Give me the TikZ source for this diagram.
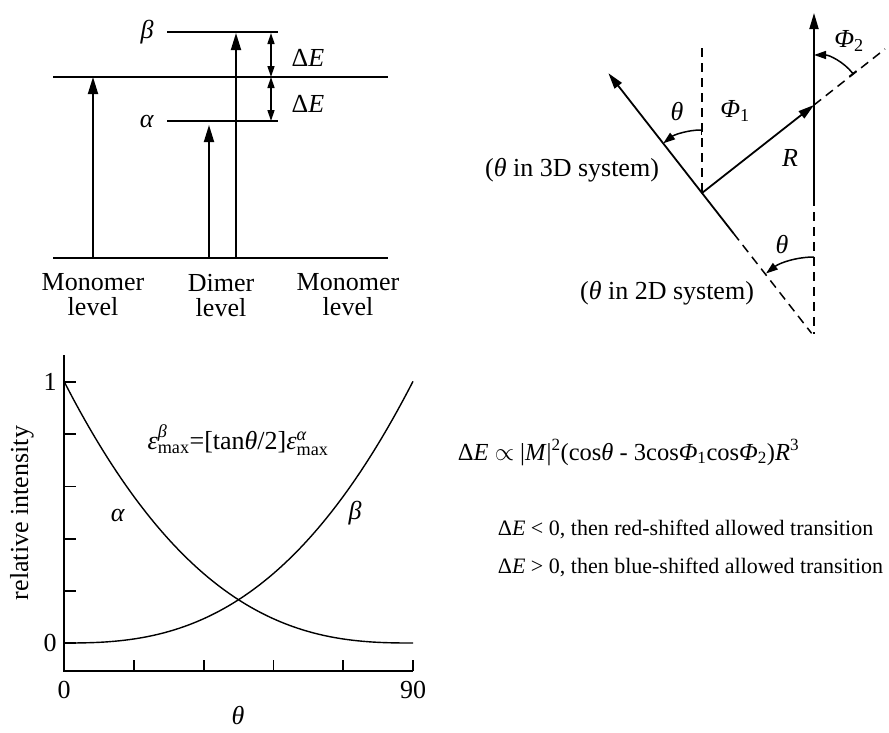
\documentclass[tikz,border=0pt]{standalone}
\usepackage{amsmath}
\usepackage{fontspec}
\setmainfont{Liberation Serif}
\usetikzlibrary{arrows.meta}
\begin{document}
\begin{tikzpicture}[x=1pt,y=1pt,line width=1.8pt,
  lbl/.style={font=\fontsize{26}{25}\selectfont, inner sep=0pt},
  small/.style={font=\fontsize{22}{26}\selectfont, inner sep=0pt},
  mid/.style={font=\fontsize{24.5}{28}\selectfont, inner sep=0pt},
  bigarr/.style={-{Triangle[length=17pt,width=10pt]}},
  darr/.style={{Triangle[length=11pt,width=7pt]}-{Triangle[length=11pt,width=7pt]}, line width=1.4pt},
  vecarr/.style={-{Triangle[length=16pt,width=9pt]}},
  angarr/.style={{Bar[width=9pt]}-{Triangle[length=12pt,width=8pt]}, line width=1.5pt},
  angarrb/.style={-{Triangle[length=12pt,width=8pt]}, line width=1.5pt},
  dsh/.style={dash pattern=on 9pt off 6pt, line width=1.5pt},
  crv/.style={line width=1.4pt}]
\useasboundingbox (0,0) rectangle (889,-732);

% ---------------- energy level diagram ----------------
\coordinate (mL) at (53,-77);  \coordinate (mR) at (388,-77);
\coordinate (gL) at (53,-258); \coordinate (gR) at (388,-258);
\coordinate (bL) at (167,-32); \coordinate (bR) at (278,-32);
\coordinate (aL) at (167,-121);\coordinate (aR) at (278,-121);
\draw (mL) -- (mR);
\draw (gL) -- (gR);
\draw (bL) -- (bR);
\draw (aL) -- (aR);
\coordinate (m1b) at (93,-258);  \coordinate (m1t) at (93,-77);
\coordinate (dab) at (209,-258); \coordinate (dat) at (209,-125);
\coordinate (dbb) at (236,-258); \coordinate (dbt) at (236,-33);
\draw[bigarr] (m1b) -- (m1t);
\draw[bigarr] (dab) -- (dat);
\draw[bigarr] (dbb) -- (dbt);
\coordinate (e1) at (271,-33); \coordinate (e2) at (271,-77); \coordinate (e3) at (271,-121);
\draw[darr] (e1) -- (e2);
\draw[darr] (e2) -- (e3);
\node[lbl] (lb) at (147,-32) {\textit{β}};
\node[lbl] (la) at (147,-121) {\textit{α}};
\node[lbl] (dE1) at (308,-58) {Δ\textit{E}};
\node[lbl] (dE2) at (308,-104) {Δ\textit{E}};
\node[lbl,align=center,anchor=north] (mon1) at (93,-273) {Monomer\\level};
\node[lbl,align=center,anchor=north] (dim) at (221,-273) {Dimer\\level};
\node[lbl,align=center,anchor=north] (mon2) at (348,-273) {Monomer\\level};

% ---------------- geometry ----------------
\coordinate (O1) at (702,-193);
\coordinate (O2) at (814,-105);
\coordinate (v1t) at (702,-48);
\coordinate (t1) at (608.4,-73.2);
\coordinate (s1) at (733.4,-233.2);
\coordinate (d1) at (811.6,-333.3);
\coordinate (v2t) at (814,-13);
\coordinate (v2m) at (814,-197);
\coordinate (v2b) at (814,-334);
\coordinate (rx) at (885,-49);
\draw[dsh] (v1t) -- (O1);
\draw[vecarr] (s1) -- (t1);
\draw[dsh] (s1) -- (d1);
\draw[vecarr] (O1) -- (O2);
\draw[dsh] (O2) -- (rx);
\draw[vecarr] (v2m) -- (v2t);
\draw[dsh] (v2m) -- (v2b);
\coordinate (p2s) at (853.4,-74.2);
\draw[angarr] (p2s) arc[start angle=38, end angle=90, radius=50];
\coordinate (th3s) at (702,-130);
\draw[angarr] (th3s) arc[start angle=90, end angle=128, radius=63];
\coordinate (th2s) at (814,-257);
\draw[angarrb] (th2s) arc[start angle=90, end angle=128, radius=78];
\node[lbl] (th3) at (677,-112) {\textit{θ}};
\node[lbl] (ph1) at (735,-111) {\textit{Φ}\textsubscript{1}};
\node[lbl] (R) at (790,-158) {\textit{R}};
\node[lbl] (ph2) at (849,-41) {\textit{Φ}\textsubscript{2}};
\node[lbl] (s3d) at (572,-170) {(\textit{θ} in 3D system)};
\node[lbl] (s2d) at (667,-293) {(\textit{θ} in 2D system)};
\node[lbl] (th2) at (782,-245) {\textit{θ}};

% ---------------- plot ----------------
\coordinate (yt) at (64,-355);
\coordinate (org) at (64,-671);
\coordinate (xr) at (413,-671);
\draw (yt) -- (org) -- (xr);
\foreach \i in {0,...,5} {
  \coordinate (yk\i) at (64,{-643+52.2*\i});
  \coordinate (yk\i e) at (76,{-643+52.2*\i});
  \draw (yk\i) -- (yk\i e);
  \coordinate (xk\i) at ({64+69.8*\i},-671);
  \coordinate (xk\i e) at ({64+69.8*\i},-660);
  \draw (xk\i) -- (xk\i e);
}
\draw[crv] plot[domain=0:90, samples=91, smooth] ({64+\x*3.8778},{-643+261*(1.001-\x/90)*(1.001-\x/90)*exp(0.6*ln(1.001-\x/90))});
\draw[crv] plot[domain=0:90, samples=91, smooth] ({64+\x*3.8778},{-643+261*(\x/90+0.001)*(\x/90+0.001)*exp(0.6*ln(\x/90+0.001))});
\node[lbl] (y1) at (50,-382) {1};
\node[lbl] (y0) at (50,-643) {0};
\node[lbl] (x0) at (64,-690) {0};
\node[lbl] (x90) at (413,-690) {90};
\node[lbl] (xlab) at (238,-716) {\textit{θ}};
\node[lbl,rotate=90] (ylab) at (22,-513) {relative intensity};
\node[lbl] (ca) at (118,-515) {\textit{α}};
\node[lbl] (cb) at (355,-513) {\textit{β}};
\node[lbl] (eq) at (238,-440) {\textit{ε}$^{\text{\itshape β}}_{\text{max}}$=[tan\textit{θ}/2]\textit{ε}$^{\text{\itshape α}}_{\text{max}}$};

% ---------------- right text ----------------
\node[mid,anchor=base west] (eq2) at (457,-460) {Δ\textit{E} $\propto$ |\textit{M}|\textsuperscript{2}(cos\textit{θ} - 3cos\textit{Φ}\textsubscript{1}cos\textit{Φ}\textsubscript{2})\textit{R}\textsuperscript{3}};
\node[small,anchor=base west] (r1) at (497,-535) {Δ\textit{E} < 0, then red-shifted allowed transition};
\node[small,anchor=base west] (r2) at (497,-573) {Δ\textit{E} > 0, then blue-shifted allowed transition};
\end{tikzpicture}
\end{document}
